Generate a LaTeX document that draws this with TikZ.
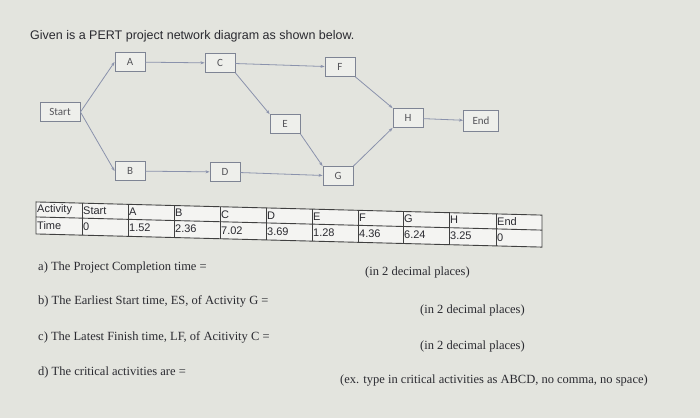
\documentclass[tikz,border=0pt]{standalone}
\usepackage{fontspec}
\setmainfont{Liberation Serif}
\newfontfamily\arialf{Liberation Sans}
\newfontfamily\calf{Carlito}
\usetikzlibrary{arrows.meta}
\definecolor{bg}{HTML}{E3E4DE}
\definecolor{boxb}{HTML}{7E8494}
\definecolor{arr}{HTML}{8A92AC}
\definecolor{txt}{HTML}{2A2A30}
\begin{document}
\begin{tikzpicture}[x=1pt,y=-1pt,
  act/.style={draw=boxb,fill=bg!60!white,line width=0.9pt,minimum width=30,minimum height=19,inner sep=1pt,font=\calf\fontsize{11}{11}\selectfont,text=txt!80},
  conn/.style={draw=arr,line width=0.8pt,-{Stealth[length=4pt,width=3pt]}},
  q/.style={anchor=west,font=\fontsize{12.5}{13}\selectfont,text=txt,inner sep=0}]
\fill[bg] (0,0) rectangle (700,418);
\useasboundingbox (0,0) rectangle (700,418);
\node[anchor=west,inner sep=0,font=\arialf\fontsize{12.5}{12.5}\selectfont,text=txt] (title) at (30,36) {Given is a PERT project network diagram as shown below.};
\node[act,minimum width=40] (S) at (60,112) {Start};
\node[act] (A) at (130,62) {A};
\node[act] (C) at (220,63) {C};
\node[act] (F) at (340,67) {F};
\node[act] (E) at (285,124) {E};
\node[act] (H) at (408,118) {H};
\node[act,minimum width=35,minimum height=21] (End) at (481,121) {End};
\node[act] (B) at (130,171) {B};
\node[act] (D) at (225,172) {D};
\node[act] (G) at (338,176) {G};
\draw[conn] (S.east) -- (A.west);
\draw[conn] (S.east) -- (B.west);
\draw[conn] (A) -- (C);
\draw[conn] (C) -- (F);
\draw[conn] (C.south east) -- (E.north west);
\draw[conn] (E.south east) -- (G.north west);
\draw[conn] (B) -- (D);
\draw[conn] (D) -- (G);
\draw[conn] (F.south east) -- (H.north west);
\draw[conn] (G.north east) -- (H.south west);
\draw[conn] (H) -- (End);
\begin{scope}[yslant=-0.026,shift={(0,-1)}]
\fill[white!60!bg] (36,202) rectangle (542,234);
\draw[black!75,line width=0.9pt] (36,202) rectangle (542,234);
\draw[black!75,line width=0.9pt] (36,217) -- (542,217);
\foreach \x in {82,128,174,220,266,312,358,403,449,496}{\draw[black!75,line width=0.9pt] (\x,202) -- (\x,234);}
\foreach \x/\a/\t in {36/Activity/Time,82/Start/0,128/A/1.52,174/B/2.36,220/C/7.02,266/D/3.69,312/E/1.28,358/F/4.36,403/G/6.24,449/H/3.25,496/End/0}{
  \node[anchor=west,inner sep=1pt,font=\arialf\fontsize{11}{11}\selectfont,text=txt] at (\x,209.5) {\a};
  \node[anchor=west,inner sep=1pt,font=\arialf\fontsize{11}{11}\selectfont,text=txt] at (\x,225.5) {\t};}
\end{scope}
\node[q] (qa) at (38,267) {a) The Project Completion time =};
\node[q] (ia) at (365,272) {(in 2 decimal places)};
\node[q] (qb) at (38,301) {b) The Earliest Start time, ES, of Activity G =};
\node[q] (ib) at (420,310) {(in 2 decimal places)};
\node[q] (qc) at (38,337) {c) The Latest Finish time, LF, of Acitivity C =};
\node[q] (ic) at (420,346) {(in 2 decimal places)};
\node[q] (qd) at (38,372) {d) The critical activities are =};
\node[q] (id) at (340,381) {(ex. type in critical activities as ABCD, no comma, no space)};
\end{tikzpicture}
\end{document}
